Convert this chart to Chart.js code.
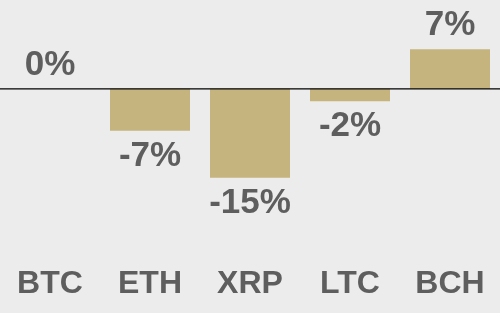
<!DOCTYPE html>
<html>
<head>
<meta charset="utf-8">
<script src="https://cdn.jsdelivr.net/npm/chart.js@4"></script>
<style>
  html, body { margin: 0; padding: 0; background: #ececec; }
  #wrap { width: 500px; height: 313px; }
</style>
</head>
<body>
<div id="wrap"><canvas id="bar-chart"></canvas></div>
<script>
const coins = ['BTC', 'ETH', 'XRP', 'LTC', 'BCH'];
const changes = [0, -7.1, -15, -2.1, 6.7];

const textColor = '#5e5e5e';
const fontFamily = '"Liberation Sans", Arial, sans-serif';

// baseline at zero and % labels over / under each bar
const barLabels = {
    id: 'barLabels',
    afterDatasetsDraw(chart) {
        const {ctx, scales} = chart;
        const y0 = scales.y.getPixelForValue(0);
        ctx.save();
        ctx.strokeStyle = '#000';
        ctx.lineWidth = 1.2;
        ctx.beginPath();
        ctx.moveTo(0, y0);
        ctx.lineTo(chart.width, y0);
        ctx.stroke();

        ctx.fillStyle = textColor;
        ctx.font = 'bold 35px ' + fontFamily;
        ctx.textAlign = 'center';
        chart.getDatasetMeta(0).data.forEach((bar, i) => {
            const v = changes[i];
            const label = Math.round(v) + '%';
            if (v >= 0) {
                ctx.textBaseline = 'bottom';
                ctx.fillText(label, bar.x, bar.y - 6);
            } else {
                ctx.textBaseline = 'top';
                ctx.fillText(label, bar.x, bar.y + 8);
            }
        });
        ctx.restore();
    }
};

new Chart('bar-chart', {
    type: 'bar',
    data: {
        labels: coins,
        datasets: [{
            data: changes,
            backgroundColor: '#c6b47e',
            categoryPercentage: 0.8,
            barPercentage: 1
        }]
    },
    options: {
        responsive: true,
        maintainAspectRatio: false,
        animation: false,
        layout: { padding: { left: 0, right: 0, top: 0, bottom: 8 } },
        plugins: {
            legend: { display: false },
            tooltip: { enabled: false }
        },
        scales: {
            x: {
                grid: { display: false },
                border: { display: false },
                ticks: {
                    color: textColor,
                    padding: 2,
                    font: { family: fontFamily, size: 32, weight: 'bold' }
                }
            },
            y: {
                display: false,
                min: -28,
                max: 15
            }
        }
    },
    plugins: [barLabels]
});
</script>
</body>
</html>
